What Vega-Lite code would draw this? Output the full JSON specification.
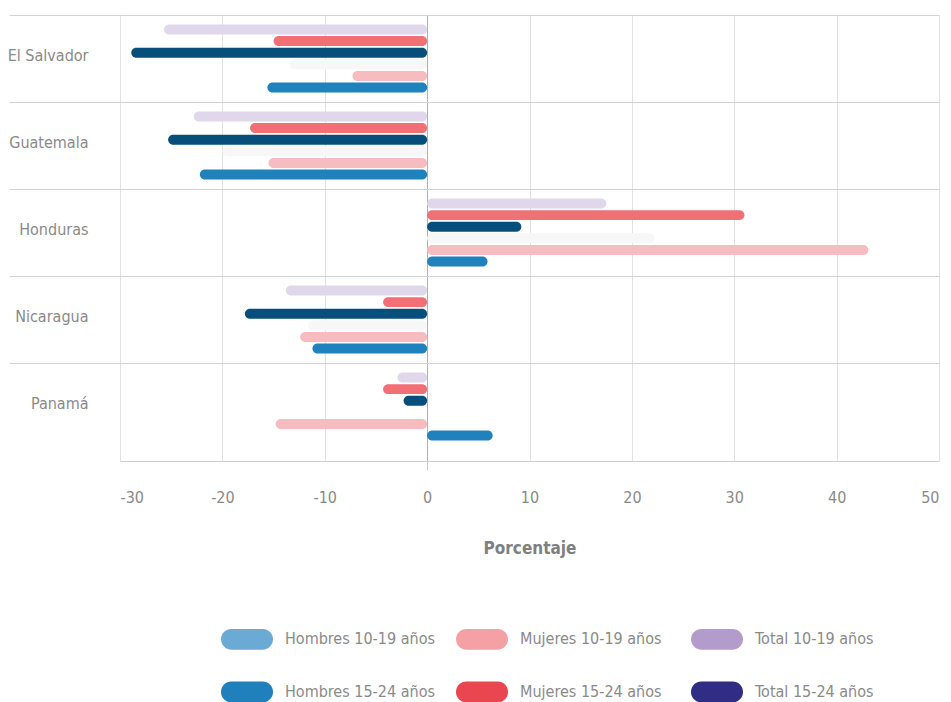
{
  "$schema": "https://vega.github.io/schema/vega-lite/v6.json",
  "width": 819,
  "height": 446,
  "autosize": {"type": "none"},
  "padding": {"left": 120, "top": 15, "right": 12, "bottom": 241},
  "background": "white",
  "config": {
    "font": "DejaVu Sans Condensed, Liberation Sans Narrow, Roboto, sans-serif",
    "view": {"stroke": null}
  },
  "datasets": {
    "barras": [
      {"pais": "El Salvador", "serie": "Total 10-19 años", "valor": -25.7},
      {"pais": "El Salvador", "serie": "Mujeres 15-24 años", "valor": -15.0},
      {"pais": "El Salvador", "serie": "Total 15-24 años", "valor": -28.9},
      {"pais": "El Salvador", "serie": "Hombres 10-19 años", "valor": -13.4},
      {"pais": "El Salvador", "serie": "Mujeres 10-19 años", "valor": -7.3},
      {"pais": "El Salvador", "serie": "Hombres 15-24 años", "valor": -15.6},
      {"pais": "Guatemala", "serie": "Total 10-19 años", "valor": -22.8},
      {"pais": "Guatemala", "serie": "Mujeres 15-24 años", "valor": -17.3},
      {"pais": "Guatemala", "serie": "Total 15-24 años", "valor": -25.3},
      {"pais": "Guatemala", "serie": "Hombres 10-19 años", "valor": -20.0},
      {"pais": "Guatemala", "serie": "Mujeres 10-19 años", "valor": -15.5},
      {"pais": "Guatemala", "serie": "Hombres 15-24 años", "valor": -22.2},
      {"pais": "Honduras", "serie": "Total 10-19 años", "valor": 17.5},
      {"pais": "Honduras", "serie": "Mujeres 15-24 años", "valor": 31.0},
      {"pais": "Honduras", "serie": "Total 15-24 años", "valor": 9.2},
      {"pais": "Honduras", "serie": "Hombres 10-19 años", "valor": 22.2},
      {"pais": "Honduras", "serie": "Mujeres 10-19 años", "valor": 43.1},
      {"pais": "Honduras", "serie": "Hombres 15-24 años", "valor": 5.9},
      {"pais": "Nicaragua", "serie": "Total 10-19 años", "valor": -13.8},
      {"pais": "Nicaragua", "serie": "Mujeres 15-24 años", "valor": -4.3},
      {"pais": "Nicaragua", "serie": "Total 15-24 años", "valor": -17.8},
      {"pais": "Nicaragua", "serie": "Hombres 10-19 años", "valor": -11.6},
      {"pais": "Nicaragua", "serie": "Mujeres 10-19 años", "valor": -12.4},
      {"pais": "Nicaragua", "serie": "Hombres 15-24 años", "valor": -11.2},
      {"pais": "Panamá", "serie": "Total 10-19 años", "valor": -2.9},
      {"pais": "Panamá", "serie": "Mujeres 15-24 años", "valor": -4.3},
      {"pais": "Panamá", "serie": "Total 15-24 años", "valor": -2.3},
      {"pais": "Panamá", "serie": "Mujeres 10-19 años", "valor": -14.8},
      {"pais": "Panamá", "serie": "Hombres 15-24 años", "valor": 6.4}
    ],
    "leyenda": [
      {"grupo": "Hombres 10-19 años"},
      {"grupo": "Mujeres 10-19 años"},
      {"grupo": "Total 10-19 años"},
      {"grupo": "Hombres 15-24 años"},
      {"grupo": "Mujeres 15-24 años"},
      {"grupo": "Total 15-24 años"}
    ]
  },
  "layer": [
    {
      "data": {"name": "barras"},
      "mark": {"type": "bar", "cornerRadius": 5},
      "encoding": {
        "y": {
          "field": "pais",
          "type": "nominal",
          "sort": ["El Salvador", "Guatemala", "Honduras", "Nicaragua", "Panamá"],
          "scale": {"paddingInner": 0, "paddingOuter": 0.063, "align": 0},
          "axis": {
            "title": null,
            "domain": false,
            "ticks": true,
            "tickSize": 111,
            "tickColor": "#d3d3d3",
            "grid": true,
            "gridColor": "#d3d3d3",
            "bandPosition": 0,
            "labelPadding": -79,
            "labelFontSize": 16,
            "labelColor": "#8a8a8a",
            "labelFontWeight": "normal",
            "labelOffset": -3
          }
        },
        "yOffset": {
          "field": "serie",
          "type": "nominal",
          "sort": ["Total 10-19 años", "Mujeres 15-24 años", "Total 15-24 años", "Hombres 10-19 años", "Mujeres 10-19 años", "Hombres 15-24 años"],
          "scale": {
            "domain": ["Total 10-19 años", "Mujeres 15-24 años", "Total 15-24 años", "Hombres 10-19 años", "Mujeres 10-19 años", "Hombres 15-24 años"],
            "paddingInner": 0.14,
            "paddingOuter": 0.82
          }
        },
        "x": {
          "field": "valor",
          "type": "quantitative",
          "stack": null,
          "scale": {"domain": [-30, 50], "nice": false, "zero": false},
          "axis": {
            "title": "Porcentaje",
            "values": [-30, -20, -10, 0, 10, 20, 30, 40, 50],
            "labelExpr": "'' + datum.value",
            "grid": true,
            "gridColor": {"condition": {"test": "datum.value === 0", "value": "#b0b0b0"}, "value": "#e2e2e2"},
            "domain": true,
            "domainColor": "#cfcfcf",
            "ticks": true,
            "tickSize": 9,
            "tickColor": {"condition": {"test": "datum.value === 0", "value": "#c8c8c8"}, "value": "transparent"},
            "labelPadding": 19,
            "labelFontSize": 16,
            "labelColor": "#8a8a8a",
            "titleFontSize": 17,
            "titleFontWeight": "bold",
            "titleColor": "#808080",
            "titlePadding": 35
          }
        },
        "fill": {
          "field": "serie",
          "type": "nominal",
          "scale": {
            "domain": ["Total 10-19 años", "Mujeres 15-24 años", "Total 15-24 años", "Hombres 10-19 años", "Mujeres 10-19 años", "Hombres 15-24 años"],
            "range": ["#e0d8ea", "#f07075", "#074f7a", "#f7f7f7", "#f7bcc0", "#1f82bd"]
          },
          "legend": null
        }
      }
    },
    {
      "data": {"name": "leyenda"},
      "mark": {"type": "bar"},
      "encoding": {
        "x": {"datum": 0, "type": "quantitative"},
        "color": {
          "field": "grupo",
          "type": "nominal",
          "scale": {
            "domain": ["Hombres 10-19 años", "Mujeres 10-19 años", "Total 10-19 años", "Hombres 15-24 años", "Mujeres 15-24 años", "Total 15-24 años"],
            "range": ["#6aaad5", "#f4a0a5", "#b39ccb", "#1f80bb", "#ea4650", "#312d85"]
          },
          "legend": {
            "title": null,
            "orient": "none",
            "legendX": 101,
            "legendY": 598,
            "columns": 3,
            "direction": "horizontal",
            "gridAlign": "all",
            "columnPadding": 21,
            "rowPadding": 16,
            "padding": 0,
            "symbolType": "M-0.6,-0.4L0.6,-0.4A0.4,0.4,0,0,1,0.6,0.4L-0.6,0.4A0.4,0.4,0,0,1,-0.6,-0.4Z",
            "symbolSize": 2704,
            "symbolStrokeWidth": 0,
            "symbolOpacity": 1,
            "labelOffset": 12,
            "labelFontSize": 16,
            "labelColor": "#8a8a8a",
            "labelLimit": 300
          }
        }
      }
    }
  ]
}
